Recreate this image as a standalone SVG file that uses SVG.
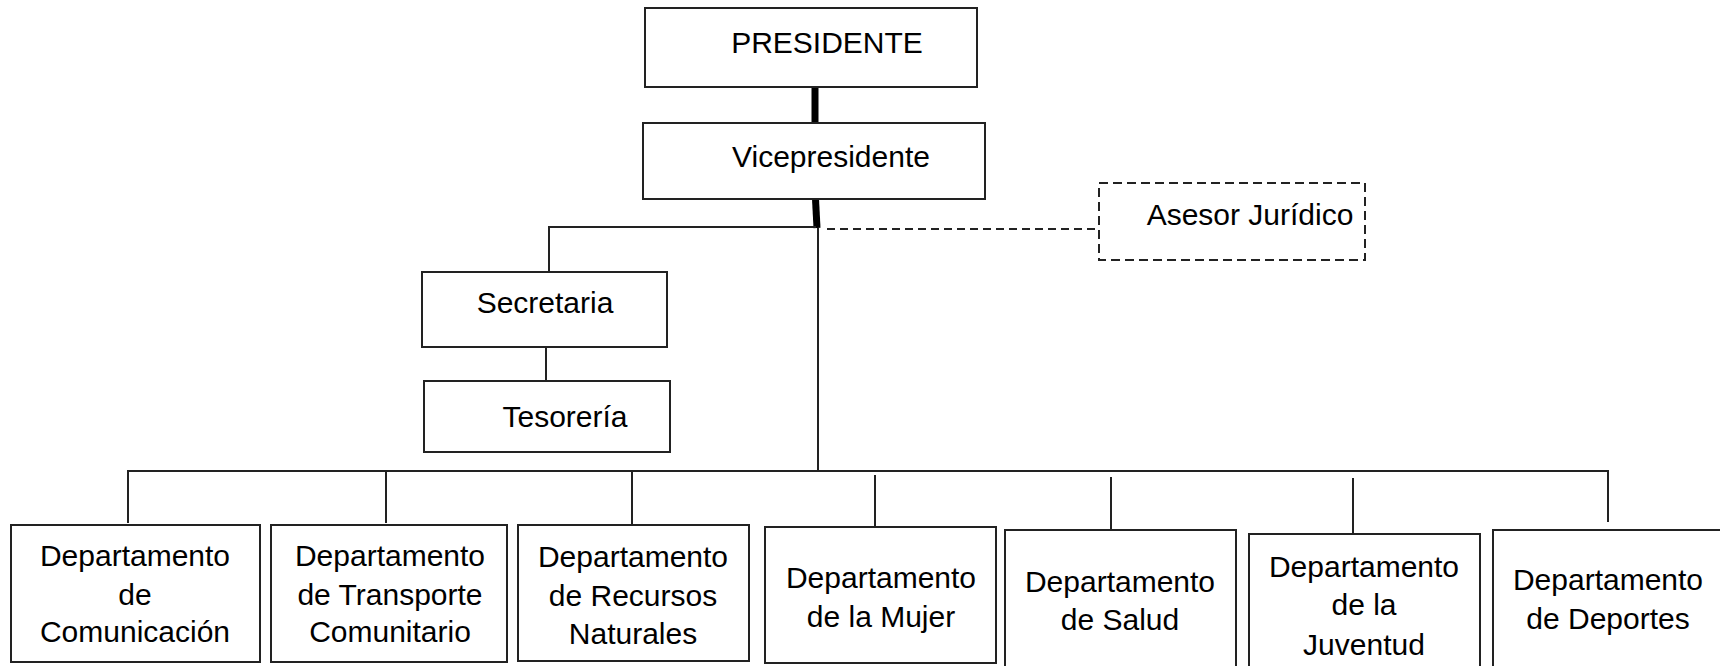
<svg xmlns="http://www.w3.org/2000/svg" width="1720" height="666" viewBox="0 0 1720 666">
<style>
.box{fill:#fff;stroke:#222;stroke-width:2}
.dbox{fill:#fff;stroke:#222;stroke-width:2;stroke-dasharray:9,5}
.ln{stroke:#222;stroke-width:2;fill:none}
.thick{stroke:#000;stroke-width:7;fill:none}
.dash{stroke:#222;stroke-width:2;fill:none;stroke-dasharray:8,5}
text{font-family:"Liberation Sans",Arial,sans-serif;font-size:30px;fill:#000;text-anchor:middle}
</style>
<rect width="1720" height="666" fill="#fff"/>
<g id="connectors">
<line class="thick" x1="815" y1="87" x2="815" y2="123"/>
<line class="thick" x1="815.5" y1="199" x2="817" y2="228"/>
<line class="ln" x1="818" y1="228" x2="818" y2="471"/>
<polyline class="ln" points="816,227 549,227 549,272"/>
<line class="ln" x1="546" y1="347" x2="546" y2="381"/>
<line class="dash" x1="827" y1="229" x2="1099" y2="229"/>
<polyline class="ln" points="128,523 128,471 1608,471 1608,522"/>
<line class="ln" x1="386" y1="471" x2="386" y2="523"/>
<line class="ln" x1="632" y1="471" x2="632" y2="524"/>
<line class="ln" x1="875" y1="475" x2="875" y2="527"/>
<line class="ln" x1="1111" y1="477" x2="1111" y2="529"/>
<line class="ln" x1="1353" y1="478" x2="1353" y2="533"/>
</g>
<g id="presidente"><rect class="box" x="645" y="8" width="332" height="79"/><text x="827" y="53">PRESIDENTE</text></g>
<g id="vicepresidente"><rect class="box" x="643" y="123" width="342" height="76"/><text x="831" y="167">Vicepresidente</text></g>
<g id="asesor"><rect class="dbox" x="1099" y="183" width="266" height="77"/><text x="1250" y="225">Asesor Jurídico</text></g>
<g id="secretaria"><rect class="box" x="422" y="272" width="245" height="75"/><text x="545" y="313">Secretaria</text></g>
<g id="tesoreria"><rect class="box" x="424" y="381" width="246" height="71"/><text x="565" y="427">Tesorería</text></g>
<g id="dep-comunicacion"><rect class="box" x="11" y="525" width="249" height="137"/><text x="135" y="566">Departamento</text><text x="135" y="605">de</text><text x="135" y="642">Comunicación</text></g>
<g id="dep-transporte"><rect class="box" x="271" y="525" width="236" height="137"/><text x="390" y="566">Departamento</text><text x="390" y="605">de Transporte</text><text x="390" y="642">Comunitario</text></g>
<g id="dep-recursos"><rect class="box" x="518" y="525" width="231" height="136"/><text x="633" y="567">Departamento</text><text x="633" y="606">de Recursos</text><text x="633" y="644">Naturales</text></g>
<g id="dep-mujer"><rect class="box" x="765" y="527" width="231" height="136"/><text x="881" y="588">Departamento</text><text x="881" y="627">de la Mujer</text></g>
<g id="dep-salud"><rect class="box" x="1005" y="530" width="231" height="160"/><text x="1120" y="592">Departamento</text><text x="1120" y="630">de Salud</text></g>
<g id="dep-juventud"><rect class="box" x="1249" y="534" width="231" height="160"/><text x="1364" y="577">Departamento</text><text x="1364" y="615">de la</text><text x="1364" y="655">Juventud</text></g>
<g id="dep-deportes"><rect class="box" x="1493" y="530" width="240" height="160"/><text x="1608" y="590">Departamento</text><text x="1608" y="629">de Deportes</text></g>
</svg>
